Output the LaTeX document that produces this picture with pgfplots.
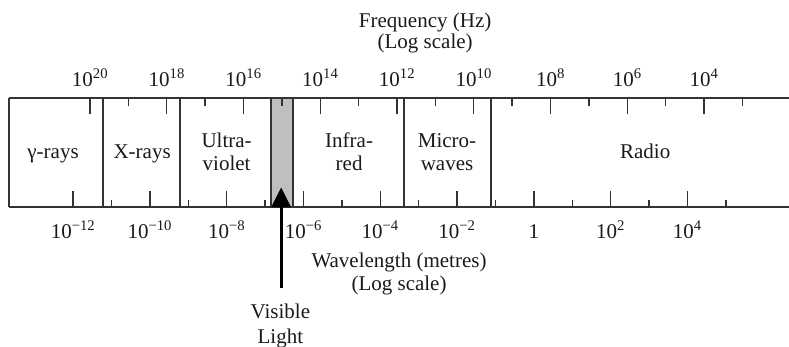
\documentclass[border=0pt]{standalone}
\usepackage{fontspec}
\setmainfont{Liberation Serif}
\usepackage{pgfplots}
\pgfplotsset{compat=1.18}
\definecolor{lin}{HTML}{333333}
\definecolor{vis}{HTML}{BFBFBF}
\definecolor{txt}{HTML}{1A1A1A}
\begin{document}
\begin{tikzpicture}[font=\rmfamily\fontsize{21}{23}\selectfont, text=txt]
\useasboundingbox (-9pt,-139pt) rectangle (780pt,207pt);
\begin{axis}[at={(0,0)}, anchor=south west, scale only axis,
  width=780pt, height=109pt,
  xmin=-13.667, xmax=6.646, ymin=0, ymax=109,
  axis x line*=bottom, axis y line=none, tick align=inside,
  xtick={-12,-10,...,4}, minor xtick={-11,-9,...,5},
  xticklabels={10\textsuperscript{\textminus 12},10\textsuperscript{\textminus 10},10\textsuperscript{\textminus 8},10\textsuperscript{\textminus 6},10\textsuperscript{\textminus 4},10\textsuperscript{\textminus 2},1,10\textsuperscript{2},10\textsuperscript{4}},
  xticklabel style={anchor=base, yshift=-31pt, font=\rmfamily\fontsize{21}{23}\selectfont, text=txt},
  major tick length=16pt, minor tick length=7pt,
  tick style={lin, line width=1.4pt},
  axis line style={lin, line width=1.6pt},
  clip=false]
\addplot[fill=vis, draw=lin, line width=1.4pt] coordinates {(-6.84,0) (-6.27,0) (-6.27,109) (-6.84,109)} -- cycle;
\addplot[lin, line width=1.6pt] coordinates {(-13.667,0) (-13.667,109)};
\addplot[lin, line width=1.4pt] coordinates {(-11.22,0) (-11.22,109)};
\addplot[lin, line width=1.4pt] coordinates {(-9.21,0) (-9.21,109)};
\addplot[lin, line width=1.4pt] coordinates {(-3.38,0) (-3.38,109)};
\addplot[lin, line width=1.4pt] coordinates {(-1.11,0) (-1.11,109)};
\addplot[black, line width=3pt] coordinates {(-6.58,-81) (-6.58,5)};
\addplot[fill=black, draw=black] coordinates {(-6.83,0) (-6.33,0) (-6.58,19)} -- cycle;
\node[anchor=base] at (axis cs:-12.52,49) {γ-rays};
\node[anchor=base] at (axis cs:-10.20,49) {X-rays};
\node[anchor=base] at (axis cs:-8.0,60) {Ultra-};
\node[anchor=base] at (axis cs:-8.0,37) {violet};
\node[anchor=base] at (axis cs:-4.81,60) {Infra-};
\node[anchor=base] at (axis cs:-4.81,37) {red};
\node[anchor=base] at (axis cs:-2.26,60) {Micro-};
\node[anchor=base] at (axis cs:-2.26,37) {waves};
\node[anchor=base] at (axis cs:2.90,49) {Radio};
\node[anchor=base] at (axis cs:-3.51,-60) {Wavelength (metres)};
\node[anchor=base] at (axis cs:-3.51,-83) {(Log scale)};
\node[anchor=base] at (axis cs:-6.60,-111) {Visible};
\node[anchor=base] at (axis cs:-6.60,-136) {Light};
\node[anchor=base] at (axis cs:-2.83,180) {Frequency (Hz)};
\node[anchor=base] at (axis cs:-2.83,159) {(Log scale)};
\end{axis}
\begin{axis}[at={(0,0)}, anchor=south west, scale only axis,
  width=780pt, height=109pt,
  xmin=1.785, xmax=22.111, x dir=reverse, ymin=0, ymax=109,
  axis x line*=top, axis y line=none, tick align=inside,
  xtick={4,6,...,20}, minor xtick={3,5,...,19},
  xticklabels={10\textsuperscript{4},10\textsuperscript{6},10\textsuperscript{8},10\textsuperscript{10},10\textsuperscript{12},10\textsuperscript{14},10\textsuperscript{16},10\textsuperscript{18},10\textsuperscript{20}},
  xticklabel style={anchor=base, yshift=12pt, font=\rmfamily\fontsize{21}{23}\selectfont, text=txt},
  major tick length=16pt, minor tick length=8pt,
  tick style={lin, line width=1.4pt},
  axis line style={lin, line width=1.6pt},
  clip=false]
\end{axis}
\end{tikzpicture}
\end{document}
